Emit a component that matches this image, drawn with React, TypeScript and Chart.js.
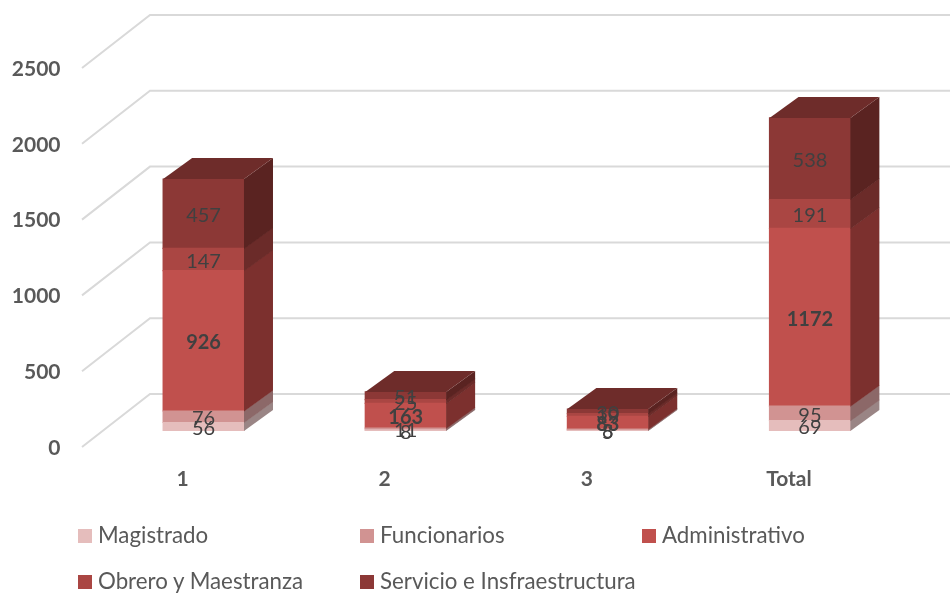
import React, { useEffect, useRef } from "react";
import { Chart, registerables } from "chart.js";

Chart.register(...registerables);

const categories = ["1", "2", "3", "Total"];
const magistrado = [56, 8, 5, 69];
const funcionarios = [76, 11, 8, 95];
const administrativo = [926, 163, 83, 1172];
const obrero = [147, 25, 19, 191];
const servicio = [457, 51, 30, 538];
const seriesNames = ["Magistrado", "Funcionarios", "Administrativo", "Obrero y Maestranza", "Servicio e Insfraestructura"];
const seriesValues = [magistrado, funcionarios, administrativo, obrero, servicio];
const frontColors = ["#E5BDBC", "#D19392", "#C0504D", "#AA4643", "#8C3836"];
const sideColors = ["#9A8585", "#8C6868", "#7C302E", "#6B2B29", "#5A2321"];
const topColor = "#6E2C2A";
const gridColor = "#D9D9D9";
const labelColor = "#404040";
const textColor = "#595959";
const fontFamily = "Lato";

const BAR_DX = 29;
const BAR_DY = 21;
const WALL_DX = 47.5;
const WALL_DY = 37;
const FRONT_DX = 20.5;
const FRONT_DY = 16;

const grid3d = {
  id: "grid3d",
  beforeDatasetsDraw(chart: any) {
    const { ctx, scales, chartArea, width } = chart;
    ctx.save();
    ctx.strokeStyle = gridColor;
    ctx.lineWidth = 2;
    scales.y.ticks.forEach((t: any) => {
      const y = scales.y.getPixelForValue(t.value);
      ctx.beginPath();
      ctx.moveTo(chartArea.left - FRONT_DX, y + FRONT_DY);
      ctx.lineTo(chartArea.left + WALL_DX, y - WALL_DY);
      ctx.lineTo(width, y - WALL_DY);
      ctx.stroke();
    });
    ctx.restore();
  },
};

const bars3d = {
  id: "bars3d",
  afterDatasetsDraw(chart: any) {
    const { ctx } = chart;
    const count = chart.data.datasets.length;
    ctx.save();
    chart.data.datasets.forEach((ds: any, di: number) => {
      chart.getDatasetMeta(di).data.forEach((bar: any) => {
        const { x, y, base, width } = bar.getProps(["x", "y", "base", "width"], true);
        const right = x + width / 2;
        const left = x - width / 2;
        const seam = di === 0 ? 0 : 0.6;
        ctx.fillStyle = sideColors[di];
        ctx.beginPath();
        ctx.moveTo(right, y);
        ctx.lineTo(right + BAR_DX, y - BAR_DY);
        ctx.lineTo(right + BAR_DX, base - BAR_DY + seam);
        ctx.lineTo(right, base + seam);
        ctx.closePath();
        ctx.fill();
        if (di === count - 1) {
          ctx.fillStyle = topColor;
          ctx.beginPath();
          ctx.moveTo(left, y);
          ctx.lineTo(left + BAR_DX, y - BAR_DY);
          ctx.lineTo(right + BAR_DX, y - BAR_DY);
          ctx.lineTo(right, y);
          ctx.closePath();
          ctx.fill();
        }
      });
    });
    ctx.textAlign = "center";
    ctx.textBaseline = "middle";
    ctx.fillStyle = labelColor;
    chart.data.datasets.forEach((ds: any, di: number) => {
      ctx.font = `${di === 2 ? "bold " : ""}20px ${fontFamily}`;
      chart.getDatasetMeta(di).data.forEach((bar: any, i: number) => {
        const { x, y, base } = bar.getProps(["x", "y", "base"], true);
        ctx.fillText(String(ds.data[i]), x, (y + base) / 2 + 2);
      });
    });
    ctx.restore();
  },
};

const legendColumns = [78, 360, 642];
const legendRowTops = [519, 565];

export default function App() {
  const ref = useRef<HTMLCanvasElement>(null);
  useEffect(() => {
    const chart = new Chart(ref.current!, {
      type: "bar",
      data: {
        labels: categories,
        datasets: seriesNames.map((label, i) => ({
          label,
          data: seriesValues[i],
          backgroundColor: frontColors[i],
          barPercentage: 0.4,
          categoryPercentage: 1,
          inflateAmount: 0.6,
        })),
      },
      plugins: [grid3d, bars3d],
      options: {
        animation: false,
        responsive: false,
        layout: { padding: { top: 52, right: 39, left: 0, bottom: 0 } },
        plugins: { legend: { display: false }, tooltip: { enabled: false } },
        scales: {
          x: {
            stacked: true,
            grid: { display: false },
            border: { display: false },
            afterFit: (s: any) => { s.height = 162; s.paddingLeft = 0; s.paddingRight = 0; },
            ticks: {
              color: textColor,
              padding: 28,
              labelOffset: -21,
              maxRotation: 0,
              font: { family: fontFamily, size: 21, weight: "bold" },
            },
          },
          y: {
            stacked: true,
            min: 0,
            max: 2500,
            afterFit: (s: any) => { s.width = 102.5; s.paddingTop = 0; s.paddingBottom = 0; },
            grid: { display: false, drawTicks: false },
            border: { display: false },
            ticks: {
              stepSize: 500,
              color: textColor,
              padding: 42,
              labelOffset: 17,
              callback: (v: any) => String(v),
              font: { family: fontFamily, size: 21, weight: "bold" },
            },
          },
        },
      },
    } as any);
    return () => chart.destroy();
  }, []);
  return (
    <div style={{ position: "absolute", left: 0, top: 0, width: 950, height: 593, overflow: "hidden", background: "#fff" }}>
      <canvas ref={ref} width={950} height={593} style={{ display: "block" }} />
      {seriesNames.map((name, i) => (
        <div
          key={name}
          style={{
            position: "absolute",
            left: legendColumns[i % 3],
            top: legendRowTops[i < 3 ? 0 : 1],
            height: 30,
            display: "flex",
            alignItems: "center",
            fontFamily,
            fontSize: 22.3,
            color: textColor,
            whiteSpace: "nowrap",
          }}
        >
          <span style={{ width: 14, height: 14, background: frontColors[i], marginRight: 6, marginTop: 3, display: "inline-block" }} />
          {name}
        </div>
      ))}
    </div>
  );
}
